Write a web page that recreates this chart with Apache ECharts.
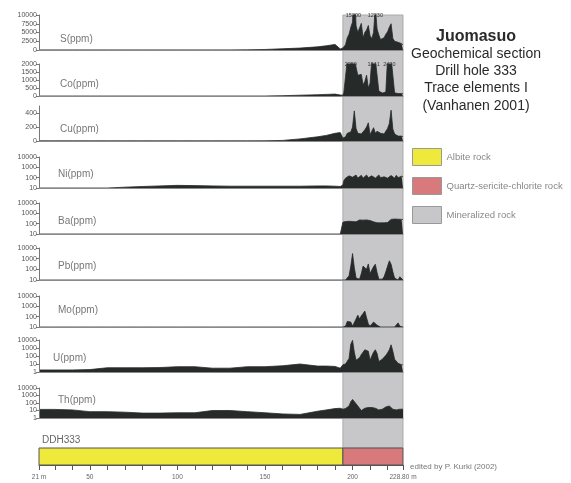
<!DOCTYPE html>
<html><head><meta charset="utf-8">
<script src="https://cdn.jsdelivr.net/npm/echarts@6/dist/echarts.min.js"></script>
<style>html,body{margin:0;padding:0;background:#fff}#c{width:571px;height:483px}</style>
</head><body><div id="c"></div>
<script>
// ---------- DATA ----------
const depthOutside = [21,30,40,50,60,70,80,90,100,110,120,130,140,150,160,170,180,185,190,193];
const depthZone = [194.5,195,196,197,198,199,200,201,202,203,204,205,206,207,208,209,210,211,212,213,214,215,216,217,218,219,220,221,222,223,224,225,226,227,228,228.8];
const depth = depthOutside.concat(depthZone);

const S_ppm = [30,30,30,30,30,30,30,30,30,30,30,30,50,150,350,550,900,1200,1600,300,
  600,1000,1500,3500,4500,6500,8000,20000,7000,5000,5200,7600,3500,5000,5700,7000,4000,3300,5000,12230,6000,4300,3000,2800,3500,4500,5200,6500,7500,3300,2500,2400,2200,1900,1800,1500];
const Co_ppm = [0,0,0,0,0,0,0,0,0,0,0,0,0,0,20,50,80,100,120,60,
  50,200,1200,2250,2300,2300,2250,2300,2200,1300,1400,1350,700,900,1300,500,800,2300,2841,2300,2200,310,200,180,200,250,2400,2420,2400,2300,200,150,150,140,150,150];
const Cu_ppm = [2,2,2,2,2,2,2,2,2,2,2,2,2,3,8,30,60,80,110,120,
  40,30,60,110,120,130,200,430,180,110,100,100,120,160,200,260,90,110,190,110,140,160,110,90,100,110,180,250,440,170,100,80,70,60,70,60];
const Ni_ppm = [10,10,10,10,10,12,14,16,18,17,16,15,15,15,15,15,16,16,15,14,
  20,50,90,120,150,180,110,140,180,90,110,170,90,120,180,100,80,150,110,90,140,180,100,85,120,170,90,100,160,110,90,170,100,130,140,120];
const Ba_ppm = [10,10,10,10,10,10,10,10,10,10,10,10,10,10,10,10,10,10,10,10,
  140,150,160,150,170,150,160,170,150,180,230,250,220,260,230,250,200,220,150,130,120,140,120,130,120,140,130,200,260,220,280,200,270,240,260,250];
const Pb_ppm = [10,10,10,10,10,10,10,10,10,10,10,10,10,10,10,10,10,10,10,10,
  10,10,10,10,25,200,3000,150,15,10,12,40,200,150,100,320,40,60,180,300,50,12,10,12,20,60,200,630,300,60,15,10,10,20,15,10];
const Mo_ppm = [10,10,10,10,10,10,10,10,10,10,10,10,10,10,10,10,10,10,10,10,
  10,10,12,35,45,30,12,15,60,140,60,120,200,350,80,20,12,15,30,45,15,10,10,10,10,10,10,10,10,10,10,10,25,12,10,10];
const U_ppm = [1.8,1.8,1.8,2,3.4,3.4,3.4,3.6,4.6,4.6,3,3,4.6,4.6,6,10,5.5,5.5,5,3,
  8,6,10,15,50,3000,9000,300,30,40,60,150,300,600,900,400,30,100,300,600,200,20,25,40,60,120,250,600,2500,400,40,25,12,10,8,8];
const Th_ppm = [14,14,12,7,7,6,4.5,4.5,5,5,10,10,7,5,3.5,3,8,12,18,20,
  15,15,18,20,40,150,300,200,80,40,20,10,6,20,25,25,25,25,25,20,15,12,12,15,20,30,50,40,25,15,12,12,12,15,18,15];

const elementNames = ['S(ppm)','Co(ppm)','Cu(ppm)','Ni(ppm)','Ba(ppm)','Pb(ppm)','Mo(ppm)','U(ppm)','Th(ppm)'];
const elementValues = [S_ppm, Co_ppm, Cu_ppm, Ni_ppm, Ba_ppm, Pb_ppm, Mo_ppm, U_ppm, Th_ppm];
const axisKind = ['value','value','value','log','log','log','log','log','log'];
const axisMin = [0,0,0,10,10,10,10,1,1];
const axisMax = [10000,2000,500,10000,10000,10000,10000,10000,10000];
const linearTicks = [[0,2500,5000,7500,10000],[0,500,1000,1500,2000],[0,200,400]];

// clipped peak annotations [panel index, depth, text]
const peakPanel = [0,0,1,1,1];
const peakDepth = [200.5,213,199,212,221];
const peakText = ['15200','12230','2250','1841','2420'];

const depthMin = 21, depthMax = 228.8;
const zoneFrom = 194.5, zoneTo = 228.8;
const lithoNames = ['Albite rock','Quartz-sericite-chlorite rock'];
const lithoFrom = [21,194.5];
const lithoTo = [194.5,228.8];
const zoneName = 'Mineralized rock';
const depthTicks = [21,30,40,50,60,70,80,90,100,110,120,130,140,150,160,170,180,190,200,210,220,228.8];
const depthLabels = [21,50,100,150,200,228.8];

// ---------- STYLE / LAYOUT ----------
const FONT = 'Liberation Sans, Arial, sans-serif';
const DARK = '#262b29';
const lithoColors = ['#efe93c','#d8797b'];
const zoneColor = '#c7c7ca';
const L = 39, R = 168;
const panelTop = [15,64,106,157,203,248,296,340,388];
const panelH = [35,32,35,31,31,32,31,32,30];
const labelPos = [[60,40],[60,85],[60,130],[58,175],[58,222],[58,267],[58,311],[53,359],[58,401]];

const grids = [], xAxes = [], yAxes = [], series = [];
elementNames.forEach((name, i) => {
  grids.push({left: L, right: R, top: panelTop[i], height: panelH[i]});
  xAxes.push({type:'value', gridIndex:i, min:depthMin, max:depthMax, z:3,
    axisLine:{show:true, onZero:false, lineStyle:{color:'#8a8a8a', width:1}},
    axisTick:{show:false}, axisLabel:{show:false}, splitLine:{show:false}});
  const ya = {type: axisKind[i], gridIndex:i, min:axisMin[i], max:axisMax[i], z:3,
    axisLine:{show:true, lineStyle:{color:'#777', width:1}},
    axisTick:{show:true, length:3, lineStyle:{color:'#777'}},
    axisLabel:{fontSize:7, color:'#555', margin:2, fontFamily:FONT,
      showMinLabel:true, showMaxLabel:true, hideOverlap:false,
      formatter: v => String(Math.round(v))},
    splitLine:{show:false}};
  if (axisKind[i] === 'log') { ya.logBase = 10; ya.splitNumber = 5; }
  else { ya.axisTick.customValues = linearTicks[i]; ya.axisLabel.customValues = linearTicks[i]; }
  yAxes.push(ya);
  const mp = [];
  peakPanel.forEach((p, k) => { if (p === i) mp.push({coord:[peakDepth[k], axisMax[i]], value: peakText[k]}); });
  series.push({type:'line', name:name, xAxisIndex:i, yAxisIndex:i, silent:true, z:2,
    data: depth.map((d, k) => [d, elementValues[i][k]]),
    showSymbol:false, symbol:'none', animation:false,
    lineStyle:{color:DARK, width:0.8},
    areaStyle:{color:DARK, opacity:1, origin:'start'},
    markPoint: mp.length ? {symbol:'rect', symbolSize:[0,0], silent:true,
      label:{show:true, position:'inside', fontSize:5.5, color:'#333', fontFamily:FONT, formatter: p => p.value},
      data: mp} : undefined
  });
});
// overlay grid for mineralized zone band
const OV = elementNames.length;
grids.push({left:L, right:R, top:15, height:433});
xAxes.push({type:'value', gridIndex:OV, min:depthMin, max:depthMax, show:false});
yAxes.push({type:'value', gridIndex:OV, min:0, max:1, show:false});
series.push({type:'bar', name:zoneName, xAxisIndex:OV, yAxisIndex:OV, data:[], itemStyle:{color:zoneColor},
  markArea:{silent:true, z:1, itemStyle:{color:zoneColor, borderColor:'#ababab', borderWidth:1},
    data:[[{xAxis:zoneFrom},{xAxis:zoneTo}]]}});
// DDH lithology bar
const DG = OV + 1;
grids.push({left:L, right:R, top:448, height:17});
xAxes.push({type:'value', gridIndex:DG, min:depthMin, max:depthMax, z:3,
  axisLine:{show:true, lineStyle:{color:'#555'}},
  axisTick:{show:true, length:5, customValues:depthTicks, lineStyle:{color:'#555'}},
  axisLabel:{customValues:depthLabels, fontSize:6.5, color:'#666', margin:9, fontFamily:FONT,
    formatter: v => v === depthMin ? '21 m' : (v === depthMax ? '228.80 m' : String(v))},
  splitLine:{show:false}});
yAxes.push({type:'value', gridIndex:DG, min:0, max:1, show:false});
lithoNames.forEach((n, k) => {
  series.push({type:'bar', name:n, xAxisIndex:DG, yAxisIndex:DG, data:[], itemStyle:{color:lithoColors[k]},
    markArea:{silent:true, itemStyle:{color:lithoColors[k], borderColor:'#555', borderWidth:1},
      data:[[{xAxis:lithoFrom[k]},{xAxis:lithoTo[k]}]]}});
});

const graphics = [];
elementNames.forEach((n, i) => graphics.push({type:'text', left:labelPos[i][0], top:labelPos[i][1]-6,
  style:{text:n, fontSize:10, fill:'#777', fontFamily:FONT}}));
const titleLines = [['Juomasuo',37,'bold',16],['Geochemical section',54,'normal',14],['Drill hole 333',71,'normal',14],['Trace elements I',88,'normal',14],['(Vanhanen 2001)',106,'normal',14]];
titleLines.forEach(t => graphics.push({type:'text', x:476, y:t[1],
  style:{text:t[0], fontSize:t[3], fontWeight:t[2], fill:'#2a2a2a', fontFamily:FONT, align:'center', verticalAlign:'middle'}}));
graphics.push({type:'text', x:42, y:440, style:{text:'DDH333', fontSize:10, fill:'#666', fontFamily:FONT, verticalAlign:'middle'}});
graphics.push({type:'text', x:410, y:467, style:{text:'edited by P. Kurki (2002)', fontSize:8, fill:'#777', fontFamily:FONT, verticalAlign:'middle'}});

const chart = echarts.init(document.getElementById('c'), null, {renderer:'canvas'});
chart.setOption({
  animation:false,
  backgroundColor:'#fff',
  grid:grids, xAxis:xAxes, yAxis:yAxes, series:series,
  legend:{data:lithoNames.concat([zoneName]), orient:'vertical', left:407, top:143, icon:'rect',
    itemWidth:29, itemHeight:17, itemGap:11, selectedMode:false,
    itemStyle:{borderColor:'#999', borderWidth:1},
    textStyle:{fontSize:9.5, color:'#888', fontFamily:FONT}},
  graphic:graphics
});
</script></body></html>
